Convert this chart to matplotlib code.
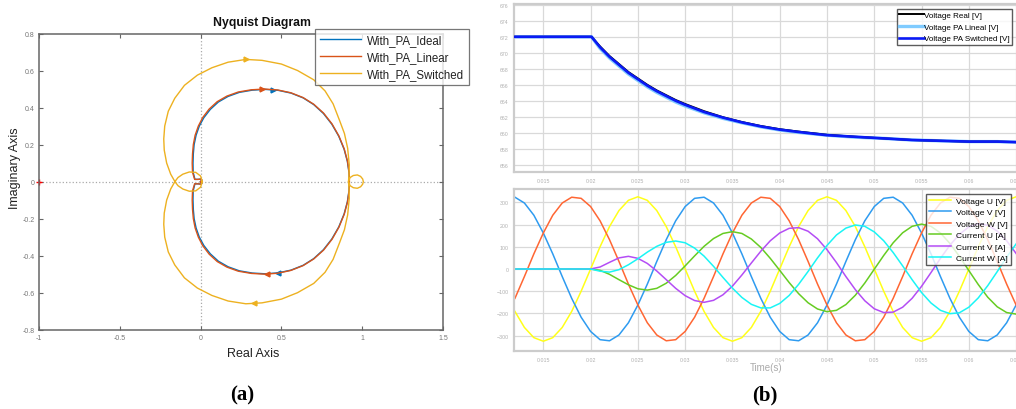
import numpy as np
import matplotlib
matplotlib.use('Agg')
import matplotlib.pyplot as plt

plt.rcParams['font.family'] = ['Liberation Sans', 'DejaVu Sans']

# ---- (a) Nyquist: upper half of each curve, the lower half is its mirror ----
ideal_re = [0.000, 0.008, 0.002, -0.015, -0.035, -0.046, -0.047, -0.045, -0.040, -0.028, -0.008, 0.020, 0.060,
            0.110, 0.170, 0.240, 0.320, 0.400, 0.480, 0.560, 0.635, 0.700, 0.760, 0.812, 0.855, 0.888, 0.908,
            0.918, 0.920]
ideal_im = [0.000, 0.008, 0.014, 0.012, 0.012, 0.050, 0.100, 0.150, 0.200, 0.250, 0.300, 0.345, 0.390,
            0.430, 0.460, 0.482, 0.494, 0.498, 0.493, 0.478, 0.452, 0.416, 0.368, 0.310, 0.245, 0.175, 0.110,
            0.050, 0.000]
linear_re = [0.000, 0.008, 0.002, -0.016, -0.037, -0.050, -0.052, -0.050, -0.045, -0.034, -0.014, 0.013, 0.053,
             0.103, 0.163, 0.233, 0.314, 0.395, 0.477, 0.558, 0.634, 0.700, 0.761, 0.813, 0.856, 0.889, 0.909,
             0.919, 0.921]
linear_im = [0.000, 0.008, 0.014, 0.012, 0.012, 0.050, 0.100, 0.150, 0.200, 0.250, 0.300, 0.346, 0.392,
             0.432, 0.462, 0.484, 0.496, 0.500, 0.495, 0.480, 0.454, 0.418, 0.370, 0.312, 0.246, 0.176, 0.110,
             0.050, 0.000]
switched_re = [0.010, 0.000, -0.030, -0.070, -0.110, -0.140, -0.159, -0.185, -0.210, -0.225, -0.228, -0.222,
               -0.200, -0.160, -0.100, -0.020, 0.070, 0.170, 0.280, 0.380, 0.500, 0.600, 0.700, 0.770, 0.820,
               0.860, 0.890, 0.910, 0.920, 0.918, 0.915, 0.925, 0.945, 0.970, 0.990, 1.003, 1.007]
switched_im = [0.000, -0.030, -0.050, -0.052, -0.040, -0.022, 0.000, 0.040, 0.100, 0.170, 0.230, 0.300,
               0.380, 0.450, 0.520, 0.575, 0.615, 0.645, 0.660, 0.655, 0.635, 0.600, 0.550, 0.490, 0.420,
               0.330, 0.260, 0.180, 0.090, 0.030, 0.000, -0.022, -0.033, -0.036, -0.028, -0.014, 0.000]
# arrow positions (re, im, direction), top and bottom
ideal_arrows = [(0.45, 0.496, '>'), (0.48, -0.493, '<')]
linear_arrows = [(0.38, 0.499, '>'), (0.41, -0.498, '<')]
switched_arrows = [(0.28, 0.660, '>'), (0.33, -0.656, '<')]
nyq_names = ['With_PA_Ideal', 'With_PA_Linear', 'With_PA_Switched']
nyq_colors = ['#0072BD', '#D95319', '#EDB120']

# ---- (b) top: DC voltage ----
vdc_t = [0.0120, 0.0201, 0.021, 0.022, 0.023, 0.024, 0.025, 0.026, 0.027, 0.028, 0.029, 0.030, 0.032, 0.034,
         0.036, 0.038, 0.040, 0.042, 0.045, 0.048, 0.051, 0.054, 0.057, 0.060, 0.063, 0.066]
v_real = [672.0, 672.0, 670.8, 669.6, 668.6, 667.6, 666.8, 666.0, 665.3, 664.7, 664.1, 663.6, 662.7, 661.95,
          661.35, 660.85, 660.45, 660.15, 659.75, 659.5, 659.3, 659.1, 659.0, 658.9, 658.9, 658.8]
v_lineal = [672.0, 672.0, 670.55, 669.35, 668.35, 667.35, 666.55, 665.75, 665.05, 664.45, 663.85, 663.35,
            662.5, 661.8, 661.25, 660.75, 660.35, 660.05, 659.7, 659.45, 659.3, 659.1, 659.0, 658.9, 658.9, 658.8]
v_switched = [672.0, 672.0, 670.7, 669.5, 668.5, 667.5, 666.7, 665.9, 665.2, 664.6, 664.0, 663.5, 662.6, 661.9,
              661.3, 660.8, 660.4, 660.1, 659.7, 659.5, 659.3, 659.1, 659.0, 658.9, 658.9, 658.8]

# ---- (b) bottom: phase voltages and currents, one sample per ms from 12 ms to 66 ms ----
t_ms = np.arange(12, 67)
volt_u = [-191, -263, -309, -325, -309, -263, -191, -100,
          0, 100, 191, 263, 309, 325, 309, 263, 191, 100, 0, -100, -191, -263, -309, -325, -309, -263, -191, -100,
          0, 100, 191, 263, 309, 325, 309, 263, 191, 100, 0, -100, -191, -263, -309, -325, -309, -263, -191, -100,
          0, 100, 191, 263, 309, 325, 309]
volt_v = [323, 297, 242, 162, 68, -34, -132, -217,
          -281, -318, -323, -297, -242, -162, -68, 34, 132, 217, 281, 318, 323, 297, 242, 162, 68, -34, -132, -217,
          -281, -318, -323, -297, -242, -162, -68, 34, 132, 217, 281, 318, 323, 297, 242, 162, 68, -34, -132, -217,
          -281, -318, -323, -297, -242, -162, -68]
volt_w = [-132, -34, 68, 162, 242, 297, 323, 318,
          281, 217, 132, 34, -68, -162, -242, -297, -323, -318, -281, -217, -132, -34, 68, 162, 242, 297, 323, 318,
          281, 217, 132, 34, -68, -162, -242, -297, -323, -318, -281, -217, -132, -34, 68, 162, 242, 297, 323, 318,
          281, 217, 132, 34, -68, -162, -242]
curr_u = [0, 0, 0, 0, 0, 0, 0, 0,
          0, -6, -24, -48, -71, -89, -95, -87, -64, -29, 14, 59, 102, 137, 160, 168, 160, 135, 97, 48,
          -6, -61, -111, -152, -180, -192, -186, -160, -118, -63, -1, 61, 118, 163, 192, 202, 192, 162, 115, 57,
          -7, -70, -127, -170, -196, -203, -188]
curr_v = [0, 0, 0, 0, 0, 0, 0, 0,
          0, 9, 30, 50, 57, 48, 25, -9, -48, -87, -120, -142, -150, -141, -116, -77, -27, 27, 80, 127,
          162, 183, 186, 170, 136, 87, 29, -34, -93, -143, -179, -196, -194, -172, -132, -78, -16, 48, 107, 156,
          189, 204, 197, 171, 127, 70, 6]
curr_w = [0, 0, 0, 0, 0, 0, 0, 0,
          0, -10, -14, -3, 19, 46, 76, 102, 120, 126, 118, 94, 58, 12, -38, -86, -128, -159, -175, -175,
          -155, -119, -69, -11, 50, 106, 153, 184, 198, 192, 167, 127, 74, 14, -48, -106, -153, -186, -201, -197,
          -172, -130, -75, -12, 53, 113, 161]
wave_names = ['Voltage U [V]', 'Voltage V [V]', 'Voltage W [V]', 'Current U [A]', 'Current V [A]', 'Current W [A]']
wave_colors = ['#FFFF1A', '#2E9BF0', '#FF6633', '#66CC22', '#B44DF5', '#1AF5F5']
time_ticks = [0.015, 0.02, 0.025, 0.03, 0.035, 0.04, 0.045, 0.05, 0.055, 0.06, 0.065]


def mirror(re, im):
    # ω < 0 branch is the complex conjugate of ω > 0
    return (np.array(re + re[::-1]), np.array(im + [-v for v in im[::-1]]))


fig = plt.figure(figsize=(10.16, 4.10), dpi=100)

# ================= (a) =================
ax = fig.add_axes([39 / 1016, 1 - 330.7 / 410, 404 / 1016, 296.2 / 410])
ax.axhline(0, color='#aaaaaa', ls=':', lw=0.9, zorder=0)
ax.axvline(0, color='#aaaaaa', ls=':', lw=0.9, zorder=0)
curves = [(ideal_re, ideal_im, ideal_arrows), (linear_re, linear_im, linear_arrows),
          (switched_re, switched_im, switched_arrows)]
for (re, im, arr), name, col in zip(curves, nyq_names, nyq_colors):
    x, y = mirror(re, im)
    ax.plot(x, y, color=col, lw=1.0, label=name)
    for px, py, m in arr:
        ax.plot(px, py, marker=m, color=col, ms=3.5, ls='none')
ax.plot(-1, 0, marker='+', color='red', ms=4, mew=1, clip_on=False)
ax.set_xlim(-1, 1.5)
ax.set_ylim(-0.8, 0.8)
ax.set_xticks([-1, -0.5, 0, 0.5, 1, 1.5])
ax.set_xticklabels(['-1', '-0.5', '0', '0.5', '1', '1.5'])
ax.set_yticks([-0.8, -0.6, -0.4, -0.2, 0, 0.2, 0.4, 0.6, 0.8])
ax.set_yticklabels(['-0.8', '-0.6', '-0.4', '-0.2', '0', '0.2', '0.4', '0.6', '0.8'])
ax.tick_params(direction='in', top=True, right=True, length=3, width=0.8, color='#666666',
               labelsize=5, labelcolor='#777777', pad=3)
for s in ax.spines.values():
    s.set_color('#666666')
    s.set_linewidth(1.1)
fig.text(262 / 1016, 1 - 23 / 410, 'Nyquist Diagram', ha='center', va='center', fontsize=8.8,
         fontweight='bold', color='#111111')
ax.set_xlabel('Real Axis', fontsize=9, color='#222222')
ax.xaxis.set_label_coords((253 - 39) / 404, (330.7 - 348) / 296.2)
ax.set_ylabel('Imaginary Axis', fontsize=9, color='#222222', va='center')
ax.yaxis.set_label_coords((15 - 39) / 404, (330.7 - 168) / 296.2)
leg = ax.legend(loc='upper left', bbox_to_anchor=(315 / 1016, 1 - 30 / 410), bbox_transform=fig.transFigure,
                fontsize=8.3, frameon=True, fancybox=False, borderaxespad=0, handlelength=3.6,
                labelspacing=0.45, borderpad=0.4, handletextpad=0.5)
leg.get_frame().set_edgecolor('#555555')
leg.get_frame().set_linewidth(0.9)
for txt in leg.get_texts():
    txt.set_color('#222222')

# ================= (b) top =================
ax1 = fig.add_axes([514 / 1016, 1 - 173 / 410, 504 / 1016, 168 / 410])
ax1.plot(vdc_t, v_real, color='black', lw=1.4, label='Voltage Real [V]', zorder=3)
ax1.plot(vdc_t, v_lineal, color='#7FCBFF', lw=2.4, label='Voltage PA Lineal [V]', zorder=2)
ax1.plot(vdc_t, v_switched, color='#0A1AF5', lw=1.9, label='Voltage PA Switched [V]', zorder=4)
ax1.set_xlim(0.0119, 0.0652)
ax1.set_ylim(655.1, 676.1)
ax1.set_xticks(time_ticks)
ax1.set_xticklabels([f'{v:g}' for v in time_ticks])
ax1.set_yticks(range(656, 677, 2))
leg1 = ax1.legend(loc='upper left', bbox_to_anchor=(897 / 1016, 1 - 10 / 410), bbox_transform=fig.transFigure,
                  fontsize=5.8, frameon=True, fancybox=False, borderaxespad=0, handlelength=3.0,
                  labelspacing=0.5, borderpad=0.3, handletextpad=0.1)
leg1.get_frame().set_edgecolor('#333333')
leg1.get_frame().set_linewidth(1.0)

# ================= (b) bottom =================
ax2 = fig.add_axes([514 / 1016, 1 - 352 / 410, 504 / 1016, 162 / 410])
for vals, name, col in zip([volt_u, volt_v, volt_w, curr_u, curr_v, curr_w], wave_names, wave_colors):
    ax2.plot(t_ms / 1000, vals, color=col, lw=1.1, label=name)
ax2.set_xlim(0.0119, 0.0652)
ax2.set_ylim(-369, 360)
ax2.set_xticks(time_ticks)
ax2.set_xticklabels([f'{v:g}' for v in time_ticks])
ax2.set_yticks([-300, -200, -100, 0, 100, 200, 300])
ax2.set_xlabel('Time(s)', fontsize=7, color='#aaaaaa', labelpad=0)
leg2 = ax2.legend(loc='upper left', bbox_to_anchor=(926 / 1016, 1 - 195 / 410), bbox_transform=fig.transFigure,
                  fontsize=6.1, frameon=True, fancybox=False, borderaxespad=0, handlelength=2.6,
                  labelspacing=0.42, borderpad=0.35, handletextpad=0.6)
leg2.get_frame().set_edgecolor('#333333')
leg2.get_frame().set_linewidth(1.0)

for a in (ax1, ax2):
    a.grid(True, color='#d9d9d9', lw=0.9)
    a.set_axisbelow(True)
    a.tick_params(length=0, labelsize=3.8, labelcolor='#b0b0b0', pad=4)
    for s in a.spines.values():
        s.set_color('#cccccc')
        s.set_linewidth(1.6)

# panel labels
fig.text(242 / 1016, 1 - 395 / 410, '(a)', ha='center', va='center', fontsize=15, fontweight='bold',
         family=['Liberation Serif', 'DejaVu Serif'])
fig.text(765 / 1016, 1 - 395 / 410, '(b)', ha='center', va='center', fontsize=15, fontweight='bold',
         family=['Liberation Serif', 'DejaVu Serif'])

fig.savefig('out.png', dpi=100)
